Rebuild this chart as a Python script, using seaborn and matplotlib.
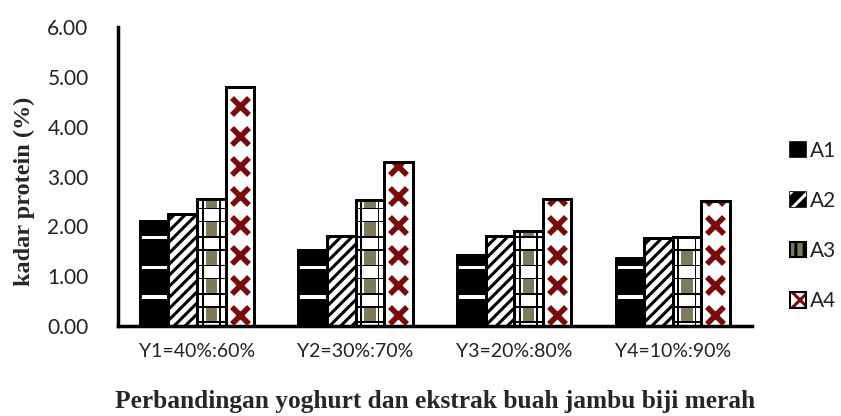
import matplotlib
matplotlib.use("Agg")
import matplotlib.pyplot as plt
from matplotlib.patches import Patch, Rectangle
from matplotlib.legend_handler import HandlerTuple
import seaborn as sns
import pandas as pd
import numpy as np

# Protein content (%) per yoghurt : guava-extract ratio and treatment
ratios = ["Y1=40%:60%", "Y2=30%:70%", "Y3=20%:80%", "Y4=10%:90%"]
treatments = ["A1", "A2", "A3", "A4"]
a1 = [2.11, 1.53, 1.43, 1.37]
a2 = [2.25, 1.81, 1.81, 1.77]
a3 = [2.55, 2.53, 1.91, 1.79]
a4 = [4.80, 3.29, 2.55, 2.51]
y_ticks = [0, 1, 2, 3, 4, 5, 6]

rows = []
for t, vals in zip(treatments, [a1, a2, a3, a4]):
    for r, v in zip(ratios, vals):
        rows.append({"ratio": r, "treatment": t, "protein": v})
df = pd.DataFrame(rows)

sns.set_style("white")
plt.rcParams["hatch.linewidth"] = 2.2

OLIVE = "#7d7b5c"
CROSS = "#7b0a0a"

fig = plt.figure(figsize=(8.41, 4.16), dpi=100)
ax = fig.add_axes([0.140, 0.216, 0.754, 0.719])

ax = sns.barplot(data=df, x="ratio", y="protein", hue="treatment",
                 order=ratios, hue_order=treatments, width=0.72,
                 palette=["black", "white", "white", "white"],
                 edgecolor="black", linewidth=2, saturation=1,
                 errorbar=None, legend=False, ax=ax, zorder=2)


def band(x, y, w, h, color, clip):
    r = Rectangle((x, y), w, h, facecolor=color, edgecolor="none", zorder=3)
    ax.add_patch(r)
    r.set_clip_path(clip)
    return r


for t, cont in zip(treatments, ax.containers):
    for bar in cont:
        x0 = bar.get_x()
        w = bar.get_width()
        h = bar.get_height()
        if t == "A1":
            bar.set_facecolor("black")
            # white brick lines across the black bars
            for lv in np.arange(0.58, h - 0.05, 0.6):
                band(x0, lv - 0.035, w, 0.07, "white", bar)
        elif t == "A2":
            bar.set_facecolor("white")
            bar.set_hatch("///")
        elif t == "A3":
            bar.set_facecolor("white")
            # olive tiles framed by a black lattice
            for lv in np.arange(0.08, h, 0.57):
                band(x0 + 0.3 * w, lv, 0.4 * w, 0.30, OLIVE, bar)
                band(x0, lv - 0.02, w, 0.035, "black", bar)
                band(x0, lv + 0.29, w, 0.035, "black", bar)
            for fx in (0.17, 0.77):
                band(x0 + fx * w, 0, 0.06 * w, h, "black", bar)
        elif t == "A4":
            bar.set_facecolor("white")
            # dark red crosses stacked up the bar
            ys = np.arange(0.22, h + 0.3, 0.6)
            pts = ax.scatter(np.full(len(ys), x0 + w / 2), ys, marker="x", s=150,
                             linewidths=4, color=CROSS, zorder=3)
            pts.set_clip_path(bar)
        # outline drawn over the decorations
        ax.add_patch(Rectangle((x0, 0), w, h, fill=False, edgecolor="black",
                               linewidth=2, zorder=4))

ax.set_ylim(0, 6)
ax.set_xlim(-0.5, 3.5)
ax.set_yticks(y_ticks)
ax.set_yticklabels([f"{v:.2f}" for v in y_ticks], fontsize=15, family="Lato",
                   color="#222222")
ax.set_xticks(range(len(ratios)))
ax.set_xticklabels(ratios, fontsize=14, family="Lato", color="#222222")
ax.set_xticks([-0.5, 0.5, 1.5, 2.5, 3.5], minor=True)
ax.tick_params(axis="x", which="major", length=0, pad=12)
ax.tick_params(axis="x", which="minor", length=7, width=2.5, direction="out",
               color="black")
ax.tick_params(axis="y", which="major", length=7, width=2.5, direction="out",
               color="black", pad=14)

for side in ["top", "right"]:
    ax.spines[side].set_visible(False)
for side in ["left", "bottom"]:
    ax.spines[side].set_linewidth(2.5)
    ax.spines[side].set_color("black")

ax.set_ylabel("kadar protein (%)", fontsize=17.5, fontweight="bold",
              family="Liberation Serif", labelpad=9, y=0.45)
ax.set_xlabel("Perbandingan yoghurt dan ekstrak buah jambu biji merah", fontsize=18.3,
              fontweight="bold", family="Liberation Serif", labelpad=22)

# legend swatches
h_a1 = Patch(facecolor="black", edgecolor="black", linewidth=1.2)
h_a2 = Patch(facecolor="black", edgecolor="black", linewidth=1.2)
h_a2w = Patch(facecolor="none", edgecolor="white", hatch="//", linewidth=0)
h_a3 = Patch(facecolor=OLIVE, edgecolor="black", hatch="||", linewidth=1.5)
h_a4 = Patch(facecolor="white", edgecolor=CROSS, hatch="x", linewidth=0)
h_a4b = Patch(facecolor="none", edgecolor="black", linewidth=1.5)
leg = ax.legend(handles=[h_a1, (h_a2, h_a2w), h_a3, (h_a4, h_a4b)],
                labels=treatments,
                handler_map={tuple: HandlerTuple(ndivide=1, pad=0)},
                loc="center left", bbox_to_anchor=(1.031, 0.335),
                frameon=False, handlelength=0.75, handleheight=0.75,
                handletextpad=0.2, labelspacing=1.45,
                prop={"family": "Lato", "size": 15})
for txt in leg.get_texts():
    txt.set_color("#222222")

fig.savefig("out.png", dpi=100)
